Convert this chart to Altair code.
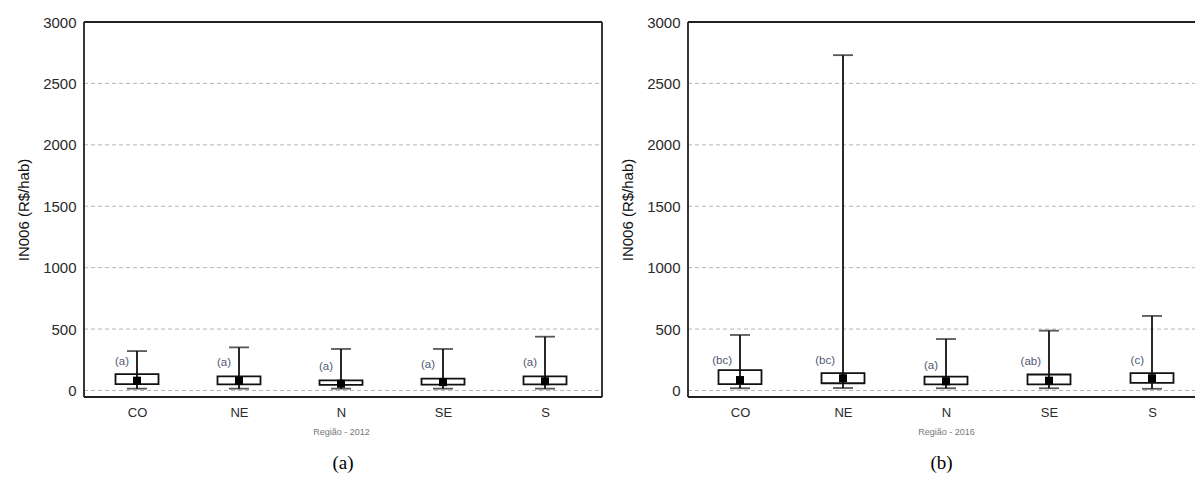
import altair as alt
import pandas as pd

regions = ["CO", "NE", "N", "SE", "S"]

# 2012
low_2012 = [15, 15, 15, 15, 15]
q1_2012 = [52, 50, 45, 48, 50]
med_2012 = [80, 80, 55, 68, 75]
q3_2012 = [134, 115, 82, 97, 115]
high_2012 = [321, 351, 338, 338, 438]
lab_2012 = ["(a)", "(a)", "(a)", "(a)", "(a)"]
laby_2012 = [235, 220, 195, 205, 220]

# 2016
low_2016 = [18, 20, 18, 18, 14]
q1_2016 = [52, 59, 50, 50, 62]
med_2016 = [85, 100, 75, 80, 100]
q3_2016 = [165, 142, 113, 130, 142]
high_2016 = [452, 2730, 419, 487, 607]
lab_2016 = ["(bc)", "(bc)", "(a)", "(ab)", "(c)"]
laby_2016 = [243, 243, 203, 235, 241]

y_ticks = [0, 500, 1000, 1500, 2000, 2500, 3000]
grid_vals = [0, 500, 1000, 1500, 2000, 2500]

H = 375
FONT = "Liberation Sans"
YS = alt.Scale(domain=[-53, 3000], nice=False, zero=False)


def panel(low, q1, med, q3, high, lab, laby, xtitle, caption, W, rng, right_edge):
    df = pd.DataFrame({"region": regions, "low": low, "q1": q1, "med": med,
                       "q3": q3, "high": high, "lab": lab, "ly": laby})
    one = pd.DataFrame({"k": [0]})
    gdf = pd.DataFrame({"g": grid_vals})
    xs = alt.Scale(type="point", domain=regions, range=rng, padding=0)
    xax = alt.Axis(title=xtitle, labelAngle=0, ticks=False, domain=False,
                   labelPadding=9, labelFontSize=13, labelFont=FONT,
                   labelColor="#2a2a2a", titleFont=FONT, titleFontSize=9,
                   titleFontWeight="normal", titleColor="#777", titlePadding=8,
                   grid=False)
    yax = alt.Axis(title="IN006 (R$/hab)", values=y_ticks, format="d", ticks=False,
                   domain=False, labelPadding=8,
                   labelFontSize=15, labelFont=FONT, labelColor="#2a2a2a",
                   titleFont=FONT, titleFontSize=15, titleFontWeight="normal",
                   titleColor="#111", titlePadding=11, grid=False)
    x = alt.X("region:N", sort=regions, scale=xs, axis=xax)
    base = alt.Chart(df)
    grid = alt.Chart(gdf).mark_rule(color="#b5b5b5", strokeWidth=1, strokeDash=[4, 3]).encode(
        y=alt.Y("g:Q", scale=YS, axis=yax), x=alt.value(0), x2=alt.value(W))
    whisk = base.mark_rule(color="#111", strokeWidth=1.8).encode(
        x=x, y=alt.Y("low:Q", scale=YS, axis=yax), y2="high:Q")
    box = base.mark_bar(size=43, fill="white", stroke="#111", strokeWidth=1.8).encode(
        x=x, y=alt.Y("q1:Q", scale=YS, axis=yax), y2="q3:Q")
    whisk2 = base.mark_rule(color="#111", strokeWidth=1.8).encode(
        x=x, y=alt.Y("q1:Q", scale=YS, axis=yax), y2="q3:Q")
    caph = base.mark_tick(orient="horizontal", size=20, thickness=1.8, color="#111").encode(
        x=x, y=alt.Y("high:Q", scale=YS, axis=yax))
    capl = base.mark_tick(orient="horizontal", size=20, thickness=1.8, color="#111").encode(
        x=x, y=alt.Y("low:Q", scale=YS, axis=yax))
    medm = base.mark_point(shape="square", filled=True, size=64, color="#000", opacity=1).encode(
        x=x, y=alt.Y("med:Q", scale=YS, axis=yax))
    labs = base.mark_text(align="right", dx=-8, baseline="middle", fontSize=11.5,
                          font=FONT, color="#515874").encode(
        x=x, y=alt.Y("ly:Q", scale=YS, axis=yax), text="lab:N")
    fr = alt.Chart(one)
    top = fr.mark_rule(color="#222", strokeWidth=1.8).encode(
        x=alt.value(0), x2=alt.value(W), y=alt.value(0))
    bottom = fr.mark_rule(color="#222", strokeWidth=1.8).encode(
        x=alt.value(0), x2=alt.value(W), y=alt.value(H))
    leftb = fr.mark_rule(color="#222", strokeWidth=1.8).encode(
        x=alt.value(0), y=alt.value(0), y2=alt.value(H))
    cap = fr.mark_text(font="Liberation Serif", fontSize=19,
                       baseline="middle", color="#000").encode(
        x=alt.value(W / 2), y=alt.value(441), text=alt.value(caption))
    layers = [grid, whisk, box, whisk2, caph, capl, medm, labs, top, bottom, leftb, cap]
    if right_edge:
        layers.append(fr.mark_rule(color="#222", strokeWidth=1.8).encode(
            x=alt.value(W), y=alt.value(0), y2=alt.value(H)))
    return alt.layer(*layers).properties(width=W, height=H)


left = panel(low_2012, q1_2012, med_2012, q3_2012, high_2012, lab_2012, laby_2012,
             "Região - 2012", "(a)", 518, [53, 461], True)
right = panel(low_2016, q1_2016, med_2016, q3_2016, high_2016, lab_2016, laby_2016,
              "Região - 2016", "(b)", 507, [52, 464], False)

chart = alt.hconcat(left, right, spacing=86, bounds="flush").properties(
    padding={"left": 16, "top": 15, "right": 0, "bottom": 0},
    background="white",
).configure_view(stroke=None)

chart.save("out.html", embed_options={"renderer": "svg", "actions": False})
